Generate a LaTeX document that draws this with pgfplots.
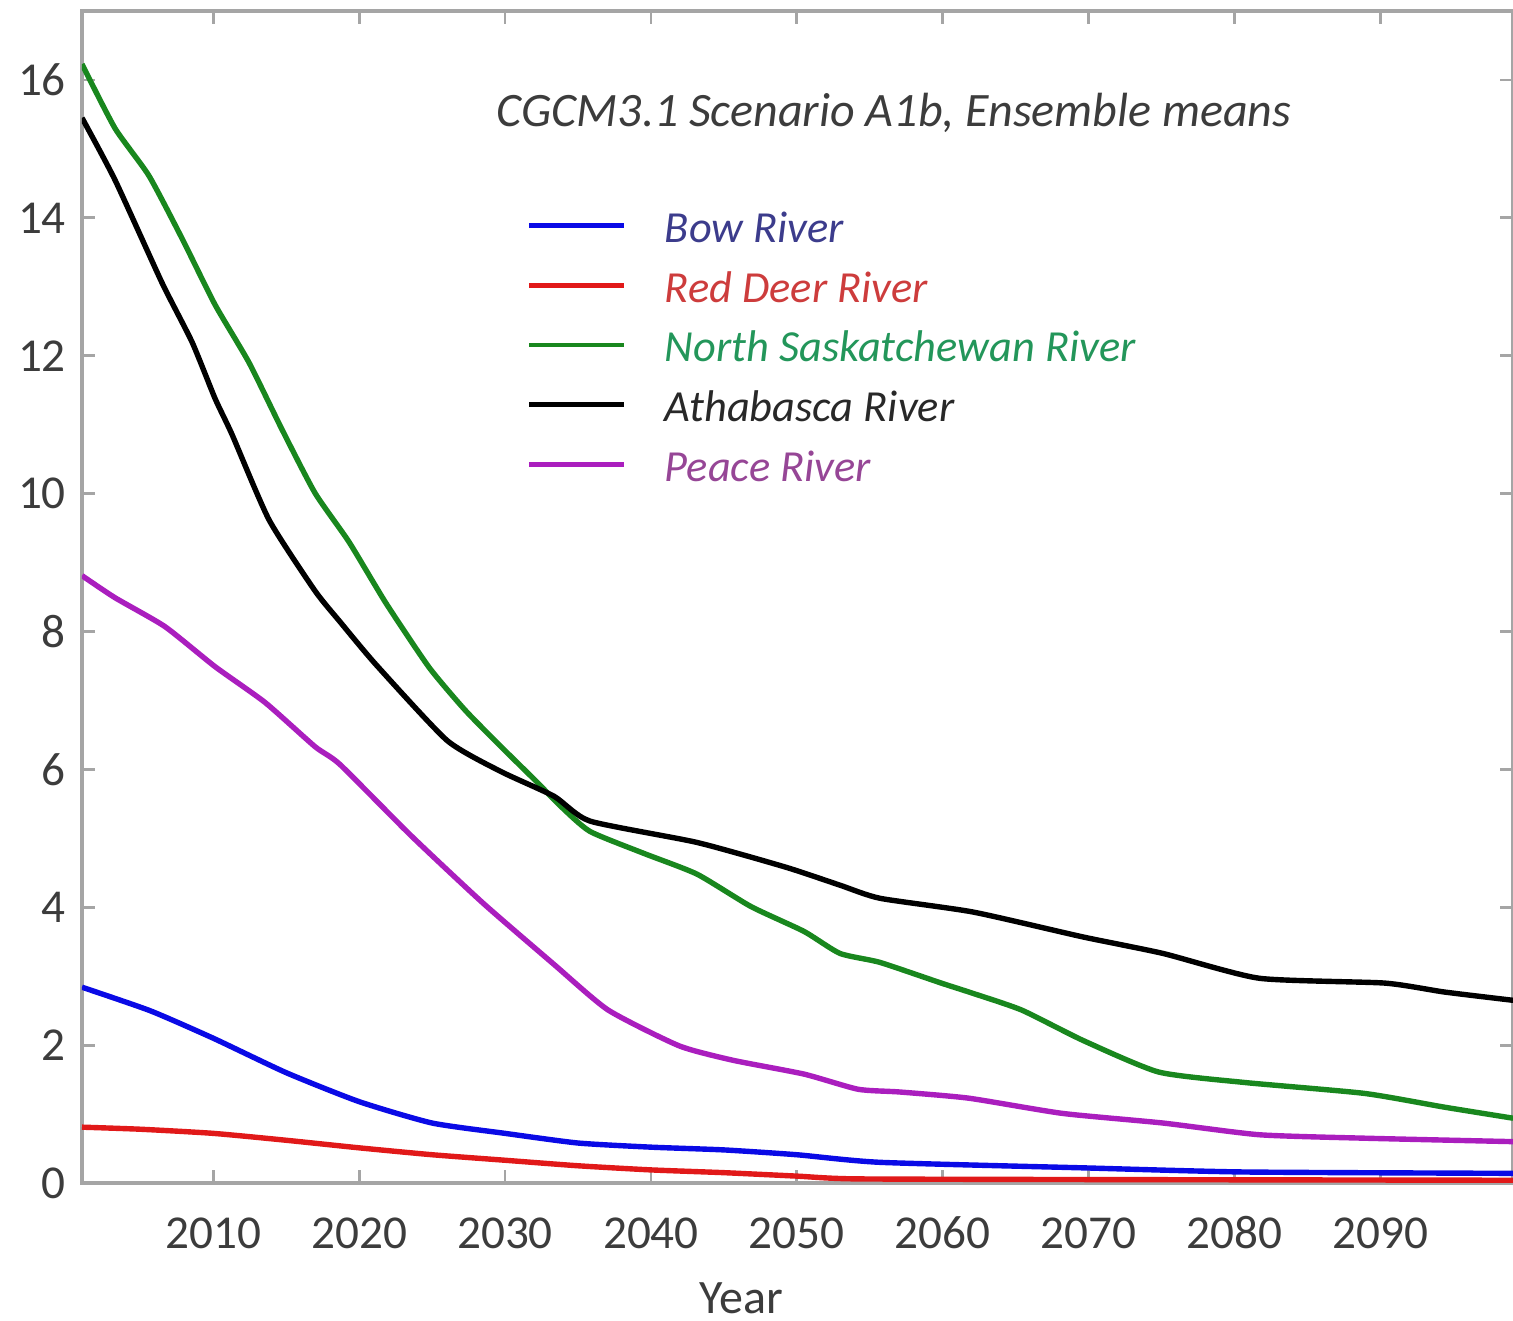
\documentclass[border=0pt]{standalone}
\usepackage{fontspec}
\setmainfont{Carlito}
\usepackage{pgfplots}
\pgfplotsset{compat=1.18}

\definecolor{bowline}{RGB}{10,10,230}
\definecolor{redline}{RGB}{225,25,25}
\definecolor{nsline}{RGB}{25,135,30}
\definecolor{peaceline}{RGB}{170,30,190}
\definecolor{bowtext}{RGB}{60,60,140}
\definecolor{redtext}{RGB}{205,60,60}
\definecolor{nstext}{RGB}{35,150,90}
\definecolor{athtext}{RGB}{40,40,40}
\definecolor{peacetext}{RGB}{150,70,150}
\definecolor{axisgray}{RGB}{165,165,165}
\definecolor{labelgray}{RGB}{60,60,60}

\begin{document}
\begin{tikzpicture}
\path[use as bounding box] (-20.5pt,-34.25pt) rectangle (357.75pt,295.75pt);
\begin{axis}[
  at={(0pt,0pt)}, anchor=south west,
  scale only axis, width=357.75pt, height=293pt,
  xmin=2001, xmax=2099.1, ymin=0, ymax=17,
  xtick={2010,2020,...,2090}, ytick={0,2,...,16},
  tick align=inside, major tick length=3.3pt,
  axis line style={axisgray, line width=1pt},
  tick style={axisgray, line width=0.7pt},
  /pgf/number format/assume math mode=true,
  /pgf/number format/1000 sep={},
  ticklabel style={font=\fontsize{11.8}{14}\selectfont, text=labelgray},
  xticklabel style={anchor=base, yshift=-16.25pt},
  yticklabel style={xshift=-0.5pt},
  xlabel={Year},
  xlabel style={at={(axis description cs:0.4605,0)}, anchor=center, yshift=-28.75pt,
    font=\fontsize{12}{14}\selectfont, text=labelgray},
  legend cell align=left,
  legend image code/.code={\draw[#1, line width=1.2pt] (0pt,1pt) -- (23.75pt,1pt);},
  legend style={
    at={(axis description cs:0.311,0.833)}, anchor=north west,
    draw=none, fill=none, inner sep=0pt, outer sep=0pt,
    row sep=3.4pt,
    nodes={inner sep=0pt, text height=9pt, text depth=2.5pt,
      font=\fontsize{11.1}{13}\selectfont\itshape},
    /tikz/every odd column/.append style={column sep=9.5pt},
  },
  every axis plot/.append style={line width=1.35pt, line join=round, smooth, tension=0.35},
]

% Bow River
\addplot[bowline] coordinates {
 (2001,2.84) (2005.66,2.50) (2010,2.10) (2015,1.60) (2020,1.18) (2025,0.87)
 (2030,0.72) (2035,0.58) (2040,0.52) (2045,0.48) (2050,0.41) (2055.7,0.30)
 (2069.6,0.22) (2080.6,0.16) (2099.1,0.14)
};
\addlegendentry[text=bowtext]{Bow River}

% Red Deer River
\addplot[redline] coordinates {
 (2001,0.81) (2005,0.78) (2010,0.72) (2015,0.62) (2020,0.51) (2025,0.41)
 (2030,0.33) (2035,0.25) (2040,0.19) (2045,0.15) (2050,0.10) (2054,0.06)
 (2070,0.05) (2099.1,0.04)
};
\addlegendentry[text=redtext]{Red Deer River}

% North Saskatchewan River
\addplot[nsline] coordinates {
 (2001,16.23) (2003.26,15.30) (2005.59,14.61) (2007.86,13.70) (2010.12,12.74)
 (2012.45,11.90) (2014.71,10.93) (2016.97,10.01) (2019.3,9.30) (2021.84,8.41)
 (2024.79,7.48) (2027.26,6.86) (2029.72,6.33) (2032.12,5.83) (2033.84,5.46)
 (2035.82,5.10) (2039.53,4.78) (2043.16,4.48) (2046.86,4.01) (2050.49,3.65)
 (2052.96,3.33) (2055.7,3.20) (2059.9,2.90) (2061.8,2.77) (2065.4,2.51)
 (2069.6,2.07) (2074.8,1.61) (2080.6,1.46) (2088.9,1.30) (2094.4,1.10)
 (2099.1,0.94)
};
\addlegendentry[text=nstext]{North Saskatchewan River}

% Athabasca River
\addplot[black] coordinates {
 (2001,15.45) (2003.26,14.55) (2006.48,13.06) (2008.54,12.20) (2010.12,11.38)
 (2011.28,10.86) (2013.82,9.62) (2016.97,8.59) (2018.69,8.14) (2021.15,7.52)
 (2026.02,6.42) (2029.7,5.97) (2033.36,5.61) (2035.82,5.25) (2043.16,4.94)
 (2049.26,4.58) (2052.96,4.32) (2055.7,4.13) (2062.1,3.93) (2069.6,3.57)
 (2075.1,3.33) (2081.7,2.97) (2090.3,2.90) (2094.4,2.77) (2099.1,2.65)
};
\addlegendentry[text=athtext]{Athabasca River}

% Peace River
\addplot[peaceline] coordinates {
 (2001,8.81) (2003.26,8.49) (2006.69,8.07) (2010.12,7.49) (2013.55,6.97)
 (2016.97,6.33) (2018.69,6.07) (2023.55,5.04) (2028.49,4.06) (2033.36,3.17)
 (2037.06,2.51) (2041.93,1.99) (2045.63,1.78) (2050.49,1.58) (2054.2,1.36)
 (2057.07,1.32) (2061.8,1.23) (2068.2,1.01) (2075.1,0.87) (2081.7,0.70)
 (2088.9,0.65) (2099.1,0.60)
};
\addlegendentry[text=peacetext]{Peace River}

\node[font=\fontsize{12}{14}\selectfont\itshape, text=labelgray]
  at (axis description cs:0.5674,0.913) {CGCM3.1 Scenario A1b, Ensemble means};
\end{axis}
\end{tikzpicture}
\end{document}
